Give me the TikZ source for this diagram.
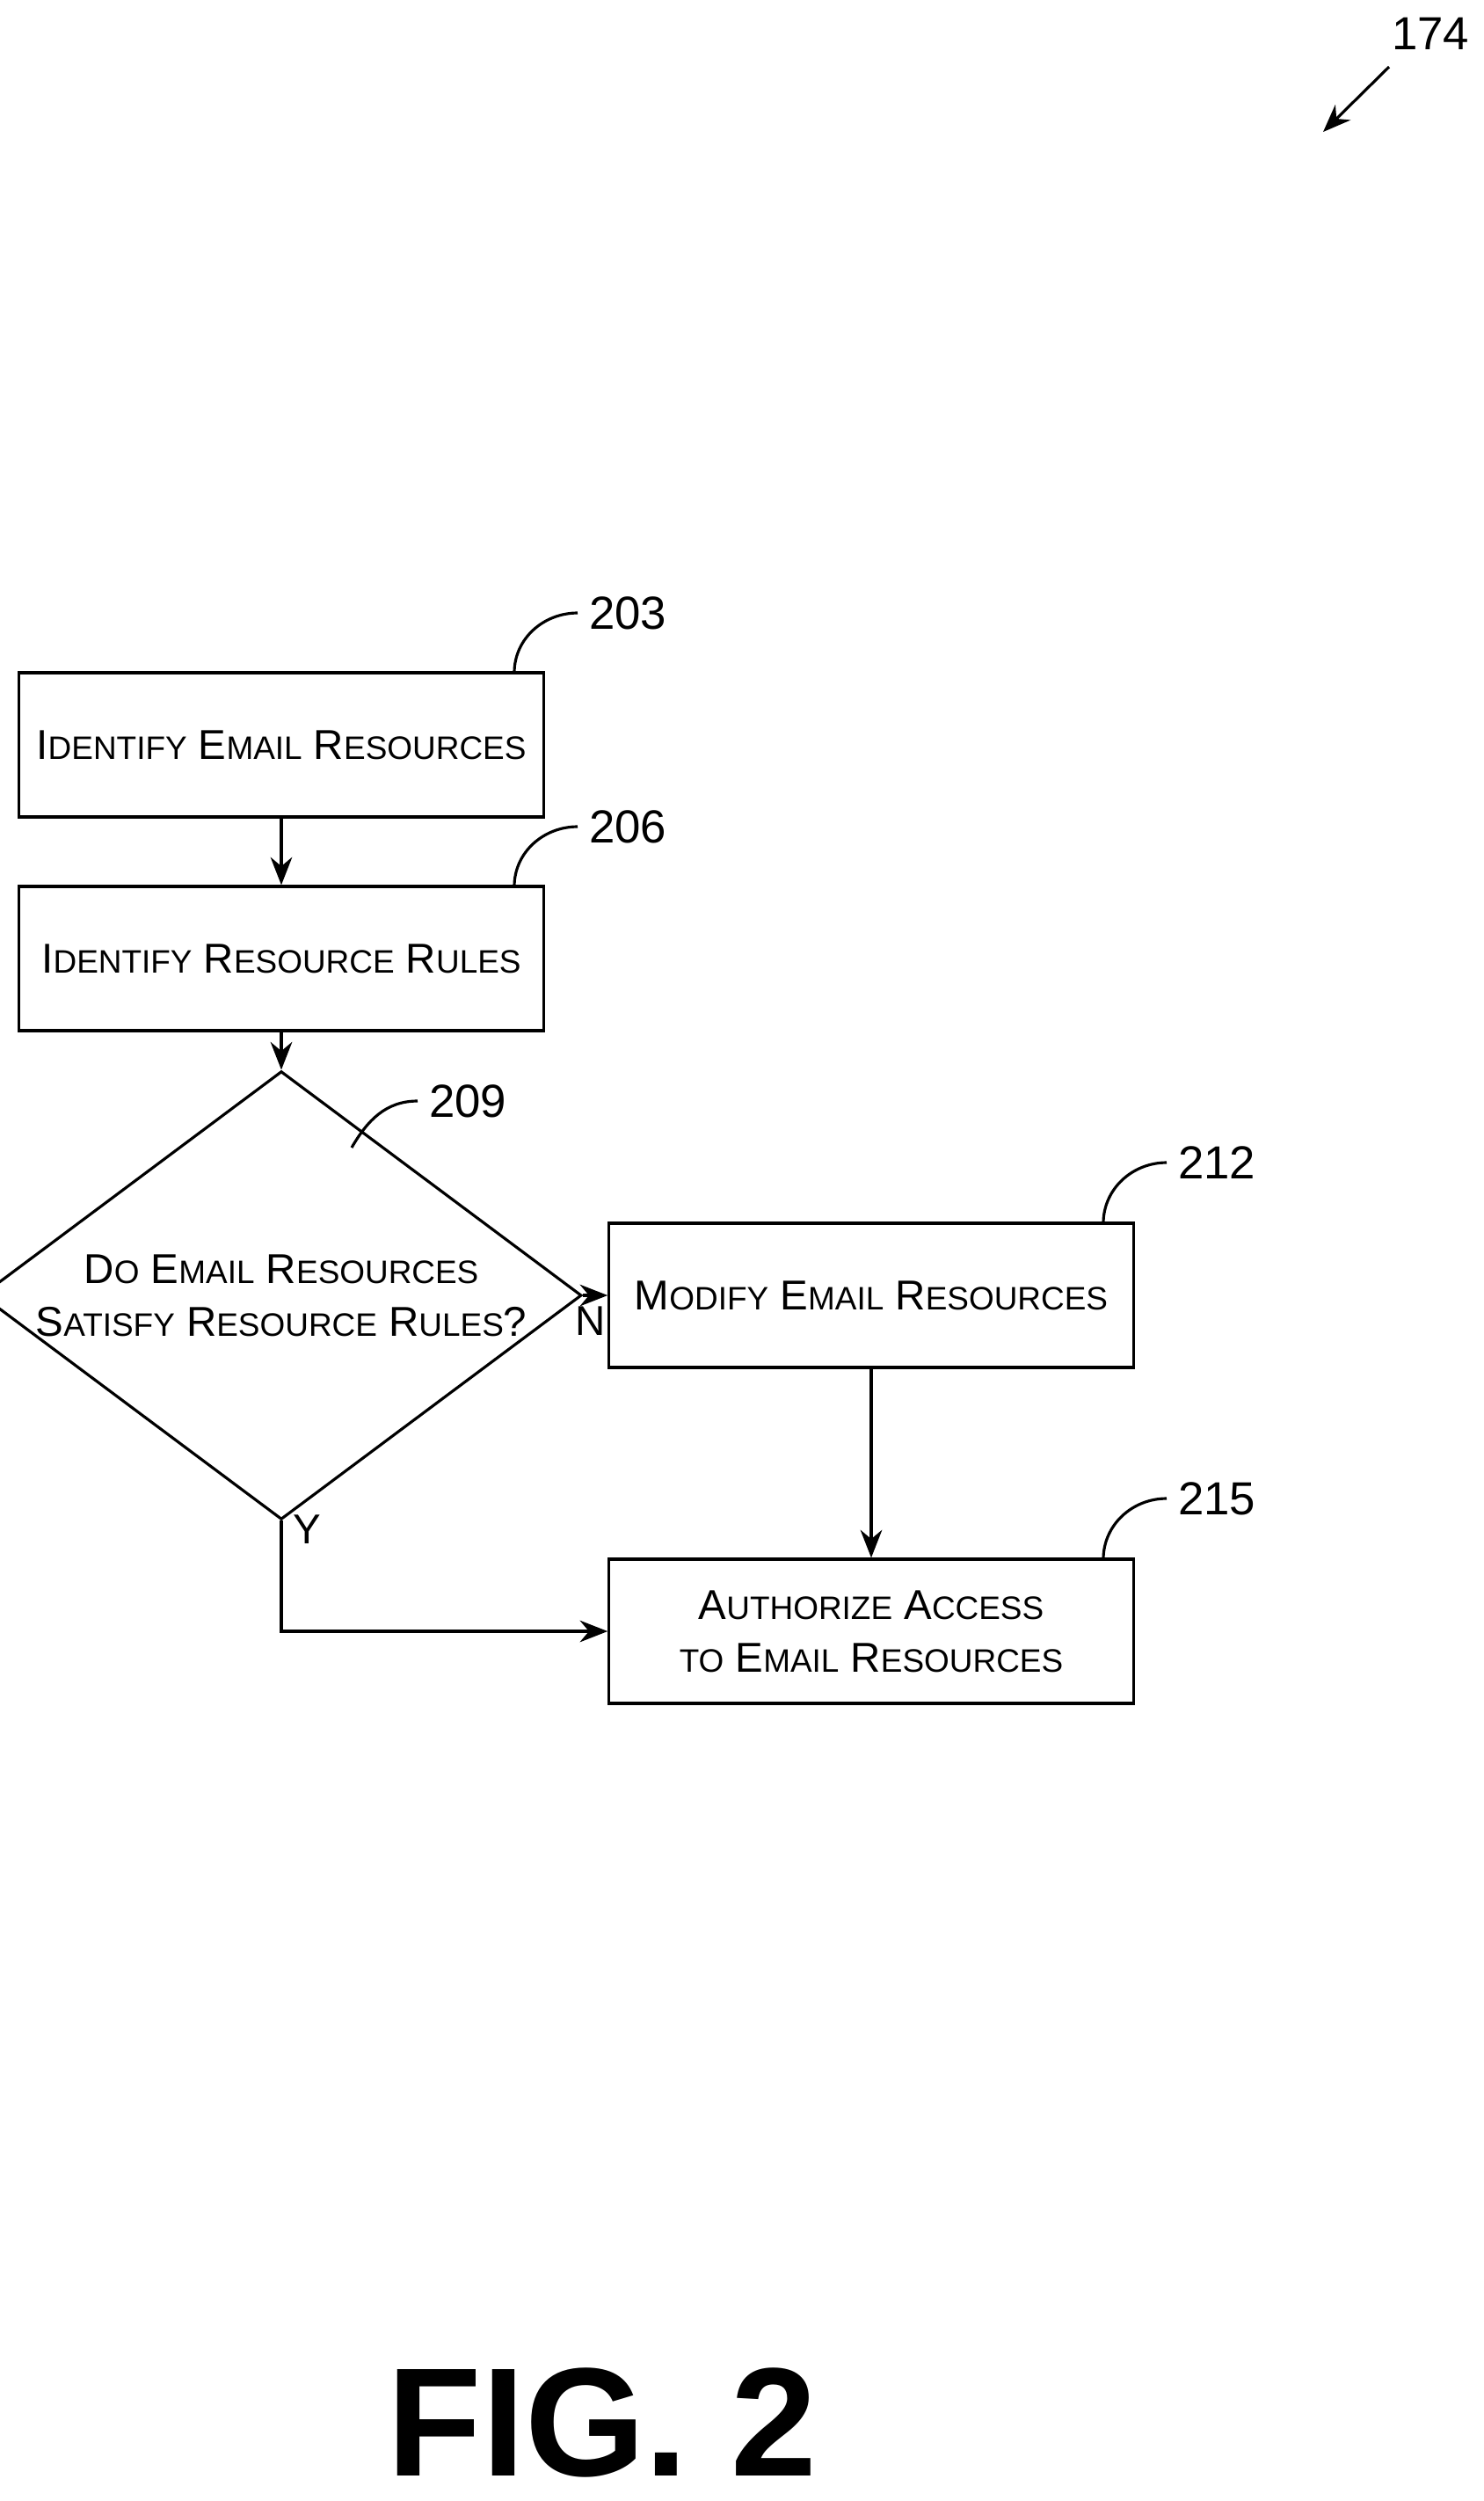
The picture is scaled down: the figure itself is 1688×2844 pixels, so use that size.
\documentclass[tikz,border=0pt]{standalone}
\usepackage{fontspec}
\setmainfont{Liberation Sans}
\usetikzlibrary{shapes.geometric,arrows.meta,positioning}
\newcommand\sm[1]{{\fontsize{10.5pt}{12pt}\selectfont #1}}

\begin{document}
\begin{tikzpicture}[x=0.01cm, y=-0.01cm, >={Stealth[length=9pt,width=7pt]},
line width = 0.9pt, font=\fontsize{13.5pt}{17pt}\selectfont,
box/.style = {draw, minimum width=5.96cm, minimum height=1.64cm, align=center},
ref/.style = {font=\fontsize{15pt}{18pt}\selectfont, anchor=west}]

\useasboundingbox (0,0) rectangle (1688,2844);

\node [box] (ident) at (320,847) {I\sm{DENTIFY} E\sm{MAIL} R\sm{ESOURCES}};
\node [box] (rules) at (320,1090) {I\sm{DENTIFY} R\sm{ESOURCE} R\sm{ULES}};
\node [diamond, draw, inner sep=0pt, minimum width=5.96cm, minimum height=4.45cm,
aspect=1.34, align=center] (check) at (320,1473)
{D\sm{O} E\sm{MAIL} R\sm{ESOURCES}\\S\sm{ATISFY} R\sm{ESOURCE} R\sm{ULES}?};
\node [box] (modify) at (991,1473) {M\sm{ODIFY} E\sm{MAIL} R\sm{ESOURCES}};
\node [box] (auth) at (991,1855) {A\sm{UTHORIZE} A\sm{CCESS}\\\sm{TO} E\sm{MAIL} R\sm{ESOURCES}};

\draw [->] (ident) -- (rules);
\draw [->] (rules) -- (check);
\draw [->] (check.east) -- node [below, pos=0.3] {N} (modify);
\draw [->] (modify) -- (auth);
\draw [->] (check.south) -- node [right, pos=0.08] {Y} (320,1855) -- (auth);

% reference numerals
\draw (585,765) to [out=90, in=180] (657,697) node [ref] {203};
\draw (585,1008) to [out=90, in=180] (657,940) node [ref] {206};
\draw (400,1305) to [out=60, in=180] (475,1252) node [ref] {209};
\draw (1255,1391) to [out=90, in=180] (1327,1322) node [ref] {212};
\draw (1255,1773) to [out=90, in=180] (1327,1704) node [ref] {215};

\node [ref] (fignum) at (1570,38) {174};
\coordinate (figtip) at (1505,150);
\draw [->] (1580,76) -- (figtip);

\node [font=\bfseries\fontsize{50pt}{60pt}\selectfont] (fig) at (685,2755) {FIG. 2};
\end{tikzpicture}
\end{document}
